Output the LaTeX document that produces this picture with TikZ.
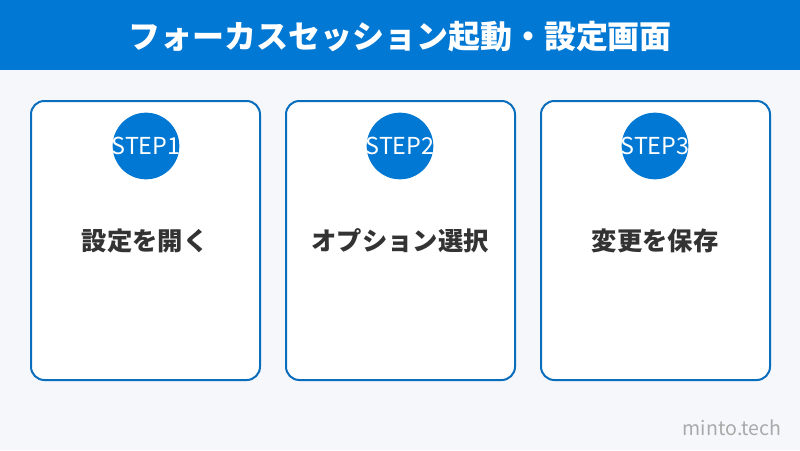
\documentclass[tikz,border=0pt]{standalone}
\usepackage{fontspec}
\setmainfont{Noto Sans CJK JP}
\usepackage{xcolor}
\definecolor{hdrblue}{RGB}{0,120,212}
\definecolor{cardline}{RGB}{10,110,189}
\definecolor{pagebg}{RGB}{245,247,250}
\definecolor{labelgray}{RGB}{51,51,51}
\definecolor{markgray}{RGB}{170,170,170}
\tikzset{
  card/.style={draw=cardline,line width=1.5,fill=white,rounded corners=10},
  stepdot/.style={circle,fill=hdrblue,minimum size=50,inner sep=0},
  steptext/.style={text=white,font=\fontsize{17.5}{20}\selectfont},
  cardlabel/.style={text=labelgray,font=\bfseries\fontsize{19}{22}\selectfont}
}

\begin{document}
\begin{tikzpicture}[x=0.75pt,y=0.75pt,yscale=-1,xscale=1]
%Background
\fill[pagebg] (0,0) rectangle (800,450);
\useasboundingbox (0,0) rectangle (800,450);
%Header bar
\fill[hdrblue] (0,0) rectangle (800,70);
% Text Node
\node[text=white,font=\bfseries\fontsize{24}{29}\selectfont] (title) at (400,37) {フォーカスセッション起動・設定画面};

%Card 1
\draw[card] (31,101) rectangle (260,380);
\node[stepdot] (dot1) at (146,146) {};
\node[steptext] (step1) at (dot1) {STEP1};
\node[cardlabel] (lab1) at (145,241) {設定を開く};

%Card 2
\draw[card] (286,101) rectangle (515,380);
\node[stepdot] (dot2) at (400,146) {};
\node[steptext] (step2) at (dot2) {STEP2};
\node[cardlabel] (lab2) at (400,241) {オプション選択};

%Card 3
\draw[card] (541,101) rectangle (770,380);
\node[stepdot] (dot3) at (655,146) {};
\node[steptext] (step3) at (dot3) {STEP3};
\node[cardlabel] (lab3) at (655,241) {変更を保存};

% Text Node
\node[text=markgray,font=\fontsize{14.7}{17}\selectfont,anchor=east] (mark) at (786,428) {minto.tech};
\end{tikzpicture}
\end{document}
